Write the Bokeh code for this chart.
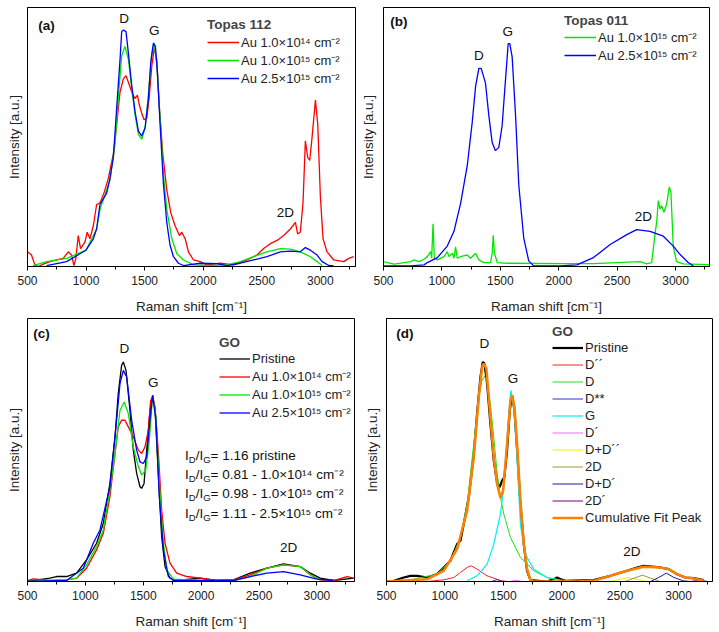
from bokeh.plotting import figure
from bokeh.models import (Range1d, SingleIntervalTicker, FixedTicker, Legend, LegendItem,
                          ColumnDataSource, Label)
from bokeh.layouts import column, row
from bokeh.embed import file_html
from bokeh.resources import INLINE
from bokeh.core.properties import value

FONT = "Liberation Sans"

# ---------------- data (a) Topas 112 ----------------
a_red_x = [500,534,563,591,634,691,748,805,848,876,896,913,933,953,990,1010,1033,1062,1090,1119,1153,1190,1233,1261,1290,1318,1341,1361,1390,1418,1438,1455,1475,1495,1518,1538,1561,1583,1603,1626,1655,1689,1723,1760,1797,1817,1846,1874,1917,1974,2031,2145,2259,2373,2459,2516,2573,2630,2687,2744,2787,2806,2829,2852,2872,2892,2909,2929,2958,2978,3000,3023,3057,3114,3200,3243,3285]
a_red_y = [45,35,5,0,7,15,20,25,45,35,3,25,95,55,75,105,85,125,190,195,225,270,345,435,535,575,585,565,535,515,525,495,470,450,455,515,615,670,635,485,345,235,165,125,95,105,85,45,20,15,5,10,5,20,35,55,70,80,95,115,135,100,105,195,385,335,325,395,510,435,215,85,45,20,15,25,30]
a_green_x = [548,663,834,999,1090,1119,1204,1247,1275,1304,1332,1361,1390,1418,1447,1475,1504,1532,1561,1581,1603,1632,1660,1689,1732,1774,1831,1917,2031,2202,2316,2430,2544,2658,2744,2829,2915,2972,3015]
a_green_y = [3,15,25,50,115,175,265,375,515,645,675,635,545,465,405,390,425,525,655,685,625,455,285,175,85,40,20,5,3,5,15,30,45,55,53,45,30,15,3]
a_blue_x = [663,834,999,1062,1090,1119,1176,1204,1233,1261,1290,1304,1318,1341,1361,1390,1418,1447,1475,1504,1532,1552,1575,1592,1609,1632,1660,1689,1717,1746,1789,1831,1974,2117,2202,2316,2430,2544,2658,2744,2829,2872,2915,2972,3015,3072,3114]
a_blue_y = [3,15,50,85,115,190,225,270,335,485,635,720,725,720,655,555,475,415,400,425,515,625,685,675,595,435,255,135,65,30,10,3,10,9,3,10,20,30,45,47,45,58,50,35,15,3,2]

# ---------------- data (b) Topas 011 ----------------
b_green_x = [506,591,733,762,804,847,875,904,912,924,935,961,1018,1046,1060,1089,1103,1117,1131,1160,1217,1245,1288,1316,1359,1416,1430,1439,1450,1473,1530,2013,2297,2696,2752,2795,2824,2838,2852,2866,2880,2900,2923,2946,2960,2980,3008,3065,3287]
b_green_y = [14,7,15,20,15,22,30,45,25,130,25,20,30,45,30,40,25,60,25,30,35,25,40,20,12,12,40,95,40,12,10,9,9,15,8,12,100,135,200,175,185,165,190,242,225,60,15,8,6]
b_blue_x = [506,733,847,875,961,1046,1103,1160,1217,1259,1288,1316,1336,1373,1402,1430,1458,1487,1515,1544,1567,1581,1601,1629,1658,1700,1743,1785,2013,2155,2297,2440,2582,2667,2781,2895,2980,3037,3108,3151]
b_blue_y = [2,2,5,12,27,62,107,192,307,437,547,602,602,557,457,377,352,362,427,567,677,677,637,467,247,87,17,2,2,5,27,67,97,112,107,92,62,37,12,2]

# ---------------- data (c) GO ----------------
c_black_x = [500,693,751,837,924,1010,1097,1155,1212,1256,1284,1313,1328,1351,1385,1414,1443,1472,1486,1507,1530,1558,1581,1602,1631,1659,1688,1731,1789,1991,2135,2279,2424,2568,2712,2856,2943,3029,3145,3318]
c_black_y = [0,10,15,15,25,65,115,175,295,435,565,650,660,635,515,395,325,285,280,295,395,515,560,515,315,135,45,10,3,10,3,5,25,40,53,45,25,10,3,10]
c_red_x = [500,549,693,837,924,1010,1097,1155,1212,1256,1284,1313,1342,1371,1414,1458,1486,1515,1544,1564,1581,1602,1631,1659,1688,1731,1789,1876,1991,2135,2279,2424,2568,2712,2856,2943,3029,3145,3260,3318]
c_red_y = [3,8,3,5,10,40,95,145,255,385,465,485,485,465,435,395,385,405,455,545,555,525,385,215,115,55,25,15,10,3,5,20,40,50,45,20,5,3,15,10]
c_green_x = [500,837,924,1010,1097,1155,1212,1256,1299,1336,1371,1414,1458,1486,1521,1550,1581,1610,1639,1668,1703,1760,1991,2279,2424,2568,2712,2856,2943,3029]
c_green_y = [0,5,10,50,105,155,275,385,515,540,505,405,345,320,335,415,557,495,295,135,35,7,3,3,15,40,50,45,20,5]
c_blue_x = [500,837,982,1068,1126,1212,1256,1299,1328,1357,1400,1443,1472,1501,1530,1558,1581,1610,1639,1674,1717,1760,2279,2424,2568,2712,2856,3000,3145]
c_blue_y = [0,3,40,115,155,285,435,595,635,615,485,395,360,355,375,485,560,485,255,95,15,3,3,15,25,30,20,7,3]
c_ratio_text = ["1.16 pristine", "0.81 - 1.0×10¹⁴ cm⁻²", "0.98 - 1.0×10¹⁵ cm⁻²", "1.11 - 2.5×10¹⁵ cm⁻²"]

# ---------------- data (d) GO peak fit ----------------
d_black_x = [500,563,648,705,762,848,933,990,1047,1104,1133,1161,1204,1247,1275,1304,1324,1338,1361,1389,1418,1446,1469,1489,1509,1532,1555,1575,1595,1618,1646,1675,1703,1732,1874,1931,1960,1988,2031,2273,2416,2558,2644,2701,2844,2915,2986,3057,3129,3214]
d_black_y = [0,2,12,17,17,12,22,42,62,112,122,172,252,382,502,612,657,652,592,472,362,297,282,302,312,392,512,557,512,392,232,112,32,4,0,7,12,7,2,4,17,32,42,47,42,37,22,12,10,4]
d_fit_x = [500,848,990,1104,1190,1247,1290,1318,1332,1355,1389,1418,1446,1475,1498,1532,1561,1575,1595,1618,1646,1675,1703,1732,1760,2131,2273,2416,2558,2701,2844,2915,2986,3057,3129,3214]
d_fit_y = [0,7,32,97,212,372,552,642,652,637,492,372,292,250,272,412,542,557,522,412,242,112,37,4,0,0,2,17,32,44,42,37,22,12,9,2]
d_D_x = [705,933,1047,1133,1190,1247,1290,1318,1338,1361,1389,1418,1446,1475,1504,1561,1646,1760,1874,1988,2131]
d_D_y = [5,22,62,132,232,412,552,602,614,597,532,432,327,252,202,132,72,32,12,5,0]
d_G_x = [1190,1275,1361,1418,1475,1504,1532,1555,1566,1595,1618,1646,1675,1703,1760,1874,1988]
d_G_y = [2,17,52,112,202,282,432,542,572,502,362,172,102,72,37,12,3]
d_Dpp_x = [848,990,1076,1133,1190,1224,1275,1361,1475,1532]
d_Dpp_y = [0,5,12,27,42,47,37,17,3,0]
d_Dss_x = [1400,1446,1490]
d_Dss_y = [0,6,0]
d_Dp_x = [1560,1610,1660]
d_Dp_y = [0,4,0]
d_DDpp_x = [2400,2480,2570,2650,2720]
d_DDpp_y = [0,5,12,6,1]
d_2D_x = [2540,2620,2690,2760,2840]
d_2D_y = [0,10,19,10,0]
d_DDp_x = [2760,2830,2895,2960,3040,3100]
d_DDp_y = [0,12,25,12,2,0]
d_2Dp_x = [3100,3180,3250]
d_2Dp_y = [0,4,0]

RED, GREEN, BLUE, BLACK = "#ff0000", "#00e800", "#0000ff", "#000000"


def base(width, height, x_end, y_end, left, right, top, bottom, ylab_standoff):
    p = figure(width=width, height=height, x_range=Range1d(500, x_end), y_range=Range1d(0, y_end),
               output_backend="svg", toolbar_location=None, tools="",
               min_border_left=left, min_border_right=right, min_border_top=top,
               min_border_bottom=bottom)
    p.grid.visible = False
    p.outline_line_color = "black"
    p.outline_line_alpha = 1
    p.outline_line_width = 1
    p.border_fill_color = "white"
    xa = p.xaxis[0]
    xa.ticker = SingleIntervalTicker(interval=500, num_minor_ticks=2)
    xa.axis_label = "Raman shift [cm⁻¹]"
    xa.axis_label_text_font = FONT
    xa.axis_label_text_font_size = "13.5px"
    xa.axis_label_text_font_style = "normal"
    xa.axis_label_text_color = "#222222"
    xa.major_label_text_font = FONT
    xa.major_label_text_font_size = "12px"
    xa.major_label_text_color = "#222222"
    xa.major_tick_in = 0
    xa.major_tick_out = 4
    xa.minor_tick_in = 0
    xa.minor_tick_out = 3
    xa.major_label_standoff = 5
    xa.axis_label_standoff = 11
    ya = p.yaxis[0]
    ya.ticker = FixedTicker(ticks=[])
    ya.minor_tick_out = 0
    ya.major_tick_out = 0
    ya.major_label_standoff = 0
    ya.axis_label = "Intensity [a.u.]"
    ya.axis_label_text_font = FONT
    ya.axis_label_text_font_size = "13.5px"
    ya.axis_label_text_font_style = "normal"
    ya.axis_label_text_color = "#222222"
    ya.axis_label_standoff = ylab_standoff
    return p


def add_legend(p, title, items, loc, row_h, title_gap, glyph_w=32):
    lg = Legend(items=[LegendItem(label=t, renderers=[r]) for t, r in items], location=loc,
                title=title, title_text_font=FONT, title_text_font_size="13.5px",
                title_text_font_style="bold", title_standoff=title_gap,
                label_text_font=FONT, label_text_font_size="13px", label_text_color="#222222",
                label_height=row_h, glyph_height=row_h, glyph_width=glyph_w, label_standoff=2,
                spacing=0, padding=0, margin=0, border_line_alpha=0,
                background_fill_alpha=0)
    p.add_layout(lg)


def tag(p, x, y, text, bold=False, align="center"):
    p.add_layout(Label(x=x, y=y, text=text, text_font=FONT, text_font_size="13.5px",
                       text_font_style="bold" if bold else "normal", text_align=align,
                       text_baseline="middle", text_color="#111111"))


# ---------- panel (a) ----------
pa = base(357, 316, 3300, 794, 27, 2, 7, 45, 6)
ra1 = pa.line(a_red_x, a_red_y, line_color=RED, line_width=1.3)
ra2 = pa.line(a_green_x, a_green_y, line_color=GREEN, line_width=1.3)
ra3 = pa.line(a_blue_x, a_blue_y, line_color=BLUE, line_width=1.3)
add_legend(pa, "Topas 112", [("Au 1.0×10¹⁴ cm⁻²", ra1), ("Au 1.0×10¹⁵ cm⁻²", ra2),
                             ("Au 2.5×10¹⁵ cm⁻²", ra3)], (180, 179), 16, 1)
tag(pa, 1324, 760, "D")
tag(pa, 1581, 725, "G")
tag(pa, 2701, 167, "2D")
tag(pa, 591, 740, "(a)", bold=True, align="left")

# ---------- panel (b) ----------
pb = base(362, 316, 3290, 787, 26, 10, 7, 47, 8)
rb1 = pb.line(b_green_x, b_green_y, line_color=GREEN, line_width=1.3)
rb2 = pb.line(b_blue_x, b_blue_y, line_color=BLUE, line_width=1.3)
add_legend(pb, "Topas 011", [("Au 1.0×10¹⁵ cm⁻²", rb1), ("Au 2.5×10¹⁵ cm⁻²", rb2)],
           (181, 202), 16, 0)
tag(pb, 1316, 642, "D")
tag(pb, 1564, 715, "G")
tag(pb, 2724, 152, "2D")
tag(pb, 557, 745, "(b)", bold=True, align="left")

# ---------- panel (c) ----------
pc = base(360, 316, 3325, 791, 27, 6, 2, 50, 6)
rc0 = pc.line(c_black_x, c_black_y, line_color=BLACK, line_width=1.3)
rc1 = pc.line(c_red_x, c_red_y, line_color=RED, line_width=1.3)
rc2 = pc.line(c_green_x, c_green_y, line_color=GREEN, line_width=1.3)
rc3 = pc.line(c_blue_x, c_blue_y, line_color=BLUE, line_width=1.3)
add_legend(pc, "GO", [("Pristine", rc0), ("Au 1.0×10¹⁴ cm⁻²", rc1), ("Au 1.0×10¹⁵ cm⁻²", rc2),
                      ("Au 2.5×10¹⁵ cm⁻²", rc3)], (192, 160), 17, 0, 31)
tag(pc, 1336, 700, "D")
tag(pc, 1587, 600, "G")
tag(pc, 2755, 103, "2D")
tag(pc, 549, 745, "(c)", bold=True, align="left")

ratio_y = [378, 322, 264, 206]
tx, ty, tt, tdx, tdy, tsz = [], [], [], [], [], []
for yy, val in zip(ratio_y, c_ratio_text):
    for txt, dx, dy, sz in [("I", 0, 0, "13.5px"), ("D", 3.8, 4, "9.5px"), ("/I", 10.6, 0, "13.5px"),
                            ("G", 18.1, 4, "9.5px"), (" = " + val, 25.5, 0, "13.5px")]:
        tx.append(1861); ty.append(yy); tt.append(txt); tdx.append(dx); tdy.append(dy); tsz.append(sz)
src = ColumnDataSource(dict(x=tx, y=ty, text=tt, dx=tdx, dy=tdy, sz=tsz))
pc.text(x="x", y="y", text="text", x_offset="dx", y_offset="dy", text_font_size="sz",
        text_font=value(FONT), text_align="left", text_baseline="middle", text_color="#111111",
        source=src)

# ---------- panel (d) ----------
pd_ = base(359, 316, 3290, 787, 26, 7, 2, 51, 7)
rd0 = pd_.line(d_black_x, d_black_y, line_color=BLACK, line_width=2.2)
rd1 = pd_.line(d_Dpp_x, d_Dpp_y, line_color="#ff2020", line_width=1)
rd2 = pd_.line(d_D_x, d_D_y, line_color="#22dd22", line_width=1)
rd3 = pd_.line(d_Dss_x, d_Dss_y, line_color="#3030d0", line_width=1)
rd4 = pd_.line(d_G_x, d_G_y, line_color="#00f0f0", line_width=1.2)
rd5 = pd_.line(d_Dp_x, d_Dp_y, line_color="#ff66ff", line_width=1)
rd6 = pd_.line(d_DDpp_x, d_DDpp_y, line_color="#f0f000", line_width=1)
rd7 = pd_.line(d_2D_x, d_2D_y, line_color="#999933", line_width=1)
rd8 = pd_.line(d_DDp_x, d_DDp_y, line_color="#1a1a99", line_width=1)
rd9 = pd_.line(d_2Dp_x, d_2Dp_y, line_color="#800080", line_width=1)
rd10 = pd_.line(d_fit_x, d_fit_y, line_color="#ff8000", line_width=2.5)
add_legend(pd_, "GO", [("Pristine", rd0), ("D´´", rd1), ("D", rd2), ("D**", rd3), ("G", rd4),
                       ("D´", rd5), ("D+D´´", rd6), ("2D", rd7), ("D+D´", rd8), ("2D´", rd9),
                       ("Cumulative Fit Peak", rd10)], (166, 55), 17, 0, 31)
tag(pd_, 1338, 712, "D")
tag(pd_, 1583, 607, "G")
tag(pd_, 2601, 90, "2D")
tag(pd_, 583, 742, "(d)", bold=True, align="left")

layout = column(row(pa, pb), row(pc, pd_))
open("out.html", "w").write(file_html(layout, INLINE))
